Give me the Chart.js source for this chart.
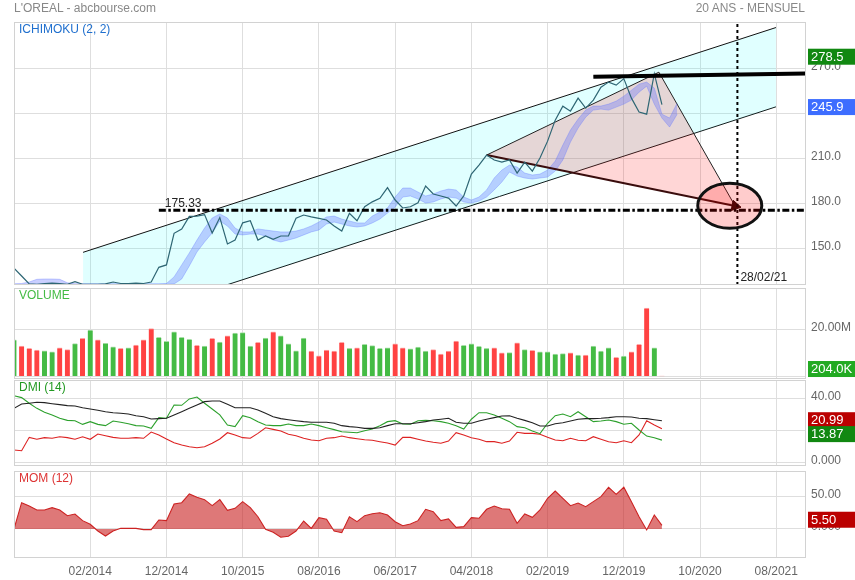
<!DOCTYPE html>
<html>
<head>
<meta charset="utf-8">
<title>L'OREAL - abcbourse.com</title>
<script src="https://cdn.jsdelivr.net/npm/chart.js@4.4.1/dist/chart.umd.min.js"></script>
<style>
  body { margin: 0; background: #fff; }
  #wrap { position: relative; width: 855px; height: 580px; overflow: hidden; font-family: "Liberation Sans", Arial, sans-serif; }
  #wrap canvas { position: absolute; left: 0; top: 0; }
  .head { position: absolute; top: 1px; font-size: 12px; color: #888; white-space: nowrap; }
</style>
</head>
<body>
<div id="wrap">
  <canvas id="priceChart" width="855" height="580"></canvas>
  <canvas id="volChart" width="855" height="580"></canvas>
  <canvas id="dmiChart" width="855" height="580"></canvas>
  <canvas id="momChart" width="855" height="580"></canvas>
  <div class="head" style="left:14px">L'OREAL - abcbourse.com</div>
  <div class="head" style="right:50px">20 ANS - MENSUEL</div>
</div>
<script>
// months are counted from 04/2013 (index 0), one value per month
var tickMonths = [10, 20, 30, 40, 50, 60, 70, 80, 90, 100];
var tickLabels = ['02/2014', '12/2014', '10/2015', '08/2016', '06/2017', '04/2018', '02/2019', '12/2019', '10/2020', '08/2021'];
var lastMonth = 103.9;

var closes = [136.7,131.5,126.2,126,126.5,126.8,126.5,126,127.7,126,
  126,126,126.2,127.5,126.5,126.4,126.8,126.5,127.5,137.3,
  138.9,160,162.9,171.3,171.5,172.5,160.2,170.5,152.9,155.5,
  167,168.4,155.5,158.2,156,158.2,158.2,170,172.2,171,
  170,168.9,164.9,161.5,173.3,168.4,177.7,181,183.3,190.5,
  182.2,176.9,177.7,180.4,191.5,186.2,184.9,183.5,178.2,184.9,
  199.5,205.5,212.2,208.9,207.5,208.9,200.2,207.5,201.5,210.2,
  221.5,235.5,244.8,241.5,250.2,243.5,248.9,257.5,260.9,258.9,
  263.2,250.2,240.9,239.5,266.5,245.9];

// ichimoku cloud, upper and lower edge (shifted 2 months ahead)
var cloudHigh = [126.4,126.5,127.5,129.3,129.5,129.5,129.3,127.0,126.3,126.3,
  126.3,126.3,126.3,126.3,126.3,126.3,126.3,126.3,126.3,126.3,
  126.5,130.9,138.9,146.9,155.5,163.5,170.2,172.9,170.2,163.5,
  160.9,160.9,162.9,162.2,161.5,160.9,160.9,161.5,162.9,164.9,
  167.5,170.9,171.5,169.5,168.2,166.9,166.9,171.5,174.2,176.9,
  184.2,190.2,190.2,187.5,184.9,186.2,188.2,189.5,188.9,184.2,
  182.2,184.2,188.9,196.9,202.2,205.5,204.2,200.2,198.9,199.5,
  202.2,208.2,218.9,228.9,236.2,242.2,244.9,244.9,246.2,248.2,
  251.5,255.5,259.5,260.9,256.9,239.5,236.9,246.9];
var cloudLow = [125.6,125.6,125.8,126.0,126.0,126.0,126.0,125.8,125.9,125.9,
  125.9,125.9,125.9,125.9,125.9,125.9,125.9,125.9,125.9,125.9,
  126.0,126.2,129.5,138.2,147.5,154.2,160.2,168.2,164.9,159.5,
  158.9,159.5,159.5,158.2,155.5,154.2,155.5,156.9,158.9,160.9,
  162.2,166.2,167.5,166.2,164.9,164.2,164.9,166.9,169.5,173.5,
  177.5,184.2,184.9,182.9,180.2,180.9,182.9,184.2,183.5,180.9,
  180.2,181.5,184.2,188.9,194.2,200.9,198.2,196.9,196.2,196.9,
  197.5,201.5,208.9,220.9,230.2,237.5,242.2,242.9,242.2,244.2,
  246.2,248.9,254.2,258.2,246.2,236.9,230.9,239.5];

// volume in millions, G = up month, R = down month
var volumes = [15.5,12.9,11.9,11.2,10.9,10.4,12.1,11.4,13.9,16.2,
  19.7,15.5,14.1,12.6,11.9,12.1,13.3,15.5,20.3,16.6,
  14.9,18.9,16.6,15.8,13.2,12.9,16.2,14.6,17.2,18.4,
  18.6,12.9,14.5,16.3,18.9,17.2,13.8,10.9,16.3,10.8,
  8.8,11.2,10.8,14.5,11.9,12.1,13.6,13.1,11.9,12.2,
  13.8,12.1,11.7,12.5,10.8,11.4,9.5,10.8,15.0,13.2,
  13.8,12.8,11.9,12.1,10.0,10.1,14.3,11.4,11.1,10.4,
  10.4,9.5,9.7,10.0,9.1,9.1,12.9,10.8,12.1,8.1,
  8.6,10.4,13.6,29.0,12.1,0.204];
var volDir = ('GRRRGGRRGR' + 'GRGGRGRRRG' + 'GGGGRGRGRG' + 'GGRGRGGGGR' + 'RRRRGRGGGG' +
  'RRGGGRRRRG' + 'GGGRRGRGRG' + 'GGGRGRGGGR' + 'GRRRGR').split('');

var plusDI = [41.6,40.4,36.9,33.7,31.2,29.6,27.5,26.2,26.0,23.7,
  25.4,23.7,22.9,25.8,25.0,24.1,22.9,22.7,21.2,27.9,
  27.5,35.8,35.6,39.6,40.8,36.9,33.3,29.6,23.3,22.3,
  29.1,27.9,25.4,23.3,22.9,22.9,23.9,22.9,22.9,23.9,
  22.9,21.6,20.4,19.1,18.75,18.5,19.75,20.8,22.9,25.4,
  26.0,23.9,23.75,26.0,26.2,26.0,25.4,24.4,22.9,20.8,
  26.9,31.0,31.0,29.6,27.5,25.4,22.3,21.6,19.6,17.9,
  24.4,29.1,30.2,28.5,31.6,28.5,25.4,25.8,26.4,25.4,
  23.75,24.4,20.2,16.4,15.4,13.87];
var minusDI = [7.7,7.25,15.6,14.4,15.4,15.0,16.0,15.4,14.4,16.0,
  14.4,17.7,16.6,15.6,15.0,15.0,15.4,15.0,18.9,17.1,
  14.6,12.25,10.8,9.75,9.1,9.75,11.9,14.6,18.5,17.1,
  15.4,15.0,18.1,21.6,20.6,19.6,17.5,16.6,15.0,13.9,
  13.5,15.0,15.4,16.4,15.4,14.75,14.1,13.75,12.9,12.1,
  10.8,15.6,15.6,14.4,13.3,12.5,11.9,13.3,18.5,17.1,
  15.4,14.4,12.9,12.9,11.9,13.3,18.75,18.1,18.1,17.5,
  15.6,13.9,13.5,15.0,13.75,13.5,16.0,14.4,12.9,12.25,
  13.5,12.25,17.1,26.0,23.3,20.99];
var adx = [33.7,36.4,36.9,37.5,37.3,36.6,36.0,35.4,35.2,34.1,
  33.3,32.5,31.6,31.0,30.6,30.2,29.1,28.5,27.1,27.3,
  27.5,29.6,31.6,33.7,35.8,37.9,38.3,38.3,36.2,34.1,
  34.1,34.1,32.7,30.6,28.5,27.3,26.6,26.0,25.4,25.0,
  25.0,25.0,24.4,22.9,22.3,21.9,21.2,21.2,21.6,22.9,
  24.1,24.1,24.1,24.75,25.4,26.4,26.9,27.5,25.0,24.4,
  24.4,25.8,26.9,27.9,28.9,29.1,27.5,26.2,24.75,22.7,
  22.7,24.1,24.75,25.8,26.9,27.3,27.3,27.5,27.9,28.5,
  28.5,28.3,27.5,27.3,26.6,26.0];

var momentum = [0,40.7,35.6,29.4,29.4,33.0,29.4,20.6,23.2,12.9,
  7.3,-3.1,-10.8,-3.1,1.0,1.0,1.0,-1.0,-1.0,13.9,
  12.9,38.7,40.7,54.2,49.0,45.4,36.1,45.4,28.9,32.0,
  42.3,33.0,19.0,-0.5,-5.2,-12.8,-11.3,-3.1,12.4,1.0,
  17.5,15.0,-3.1,-5.7,19.0,11.3,20.6,23.7,25.2,21.7,
  11.3,5.1,7.7,12.9,30.5,26.8,12.9,15.5,2.6,3.6,
  17.5,16.6,30.5,35.6,31.4,30.5,8.8,23.2,18.1,29.4,
  47.5,58.8,47.5,36.1,40.2,34.5,42.3,50.0,64.6,53.7,
  64.6,42.3,19.0,-1.5,21.7,5.5];

// hand drawn figures on the price panel
var channelX = [9.06, 99.96];
var channelHigh = [147.3, 297.3];
var channelLow = [94.5, 244.4];
var triX = [62.0, 84.6, 94.6];
var triY = [212.2, 267.5, 178.2];
var support = 175.33, supportFrom = 19;
var resistX = [76, lastMonth];
var resistY = [264.4, 266.7];
var markerX = 94.9, markerText = '28/02/21';
var circleAt = [93.9, 178.4];
var priceMin = 125.5, priceMax = 301;

var FONT = '"Liberation Sans", Arial, sans-serif';
var GRID = '#dedede';
Chart.defaults.font.family = FONT;
Chart.defaults.font.size = 12;

function pts(xs, ys) { return xs.map(function(x, i){ return {x: x, y: ys[i]}; }); }
function series(vals) { return vals.map(function(v, i){ return {x: i, y: v}; }); }
function fmt4(v) { return Number(v).toPrecision(4); }

function yScale(min, max, ticks, fmt) {
  return {
    position: 'right', min: min, max: max,
    afterBuildTicks: function(s){ s.ticks = ticks.map(function(v){ return {value: v}; }); },
    afterFit: function(s){ s.width = 49; },
    grid: {color: GRID, drawTicks: false},
    border: {display: false},
    ticks: {padding: 5, color: '#666', labelOffset: -2, callback: fmt}
  };
}

function opts(top, bottom, yAxis, showDates) {
  return {
    responsive: false, animation: false, events: [],
    layout: {padding: {left: 14, right: 0, top: top, bottom: 0}},
    plugins: {legend: {display: false}, tooltip: {enabled: false}},
    elements: {point: {radius: 0}, line: {tension: 0}},
    scales: {
      x: {
        type: 'linear', min: 0, max: lastMonth, offset: false,
        afterBuildTicks: function(s){ s.ticks = tickMonths.map(function(v){ return {value: v}; }); },
        afterFit: function(s){ s.height = 580 - bottom; },
        grid: {color: GRID, drawTicks: false, offset: false},
        border: {display: false},
        ticks: {display: !!showDates, color: '#666', padding: 7, maxRotation: 0, autoSkip: false,
          callback: function(v, i){ return tickLabels[i]; }}
      },
      y: yAxis
    }
  };
}

// frame, panel title and the coloured value boxes on the right
function decor(title, color, boxes) {
  return {
    id: 'decor',
    afterDraw: function(chart) {
      var ctx = chart.ctx, a = chart.chartArea, y = chart.scales.y;
      ctx.save();
      ctx.strokeStyle = '#d2d2d2';
      ctx.lineWidth = 1;
      ctx.strokeRect(Math.round(a.left) + 0.5, Math.round(a.top) + 0.5, Math.round(a.width) - 1, Math.round(a.height) - 1);
      ctx.font = '12px ' + FONT;
      ctx.textBaseline = 'middle';
      ctx.fillStyle = color;
      ctx.fillText(title, a.left + 5, a.top + 8);
      boxes.forEach(function(b) {
        var py = y.getPixelForValue(b.value) + b.dy;
        ctx.fillStyle = b.color;
        ctx.fillRect(808, py - 8, 47, 16);
        ctx.fillStyle = '#fff';
        ctx.font = '13px ' + FONT;
        ctx.fillText(b.text, 811, py + 0.5);
      });
      ctx.restore();
    }
  };
}

var priceExtras = {
  id: 'priceExtras',
  afterDatasetsDraw: function(chart) {
    var ctx = chart.ctx, x = chart.scales.x, y = chart.scales.y, a = chart.chartArea;
    ctx.save();
    ctx.beginPath();
    ctx.ellipse(x.getPixelForValue(circleAt[0]), y.getPixelForValue(circleAt[1]), 32, 22.5, 0, 0, Math.PI * 2);
    ctx.fillStyle = 'rgba(255,0,0,0.2)';
    ctx.fill();
    ctx.lineWidth = 3;
    ctx.strokeStyle = '#111';
    ctx.stroke();
    ctx.font = '12px ' + FONT;
    ctx.fillStyle = '#222';
    ctx.textBaseline = 'alphabetic';
    ctx.fillText(support.toFixed(2), x.getPixelForValue(supportFrom) + 6, y.getPixelForValue(support) - 3);
    ctx.textBaseline = 'middle';
    ctx.fillText(markerText, x.getPixelForValue(markerX) + 3, a.bottom - 7);
    ctx.restore();
  }
};

function arrowAngle(c) {
  var sx = c.chart.scales.x, sy = c.chart.scales.y;
  var dx = sx.getPixelForValue(triX[2]) - sx.getPixelForValue(triX[0]);
  var dy = sy.getPixelForValue(triY[2]) - sy.getPixelForValue(triY[0]);
  return Math.atan2(dy, dx) * 180 / Math.PI + 90;
}

new Chart(document.getElementById('priceChart'), {
  type: 'line',
  data: {datasets: [
    {data: series(closes), borderColor: '#2e6674', borderWidth: 1.2, order: 1},
    {data: series(cloudHigh), borderColor: 'rgba(100,120,255,0.35)', borderWidth: 1, fill: '+1', backgroundColor: 'rgba(90,105,255,0.32)', order: 3},
    {data: series(cloudLow), borderColor: 'rgba(100,120,255,0.35)', borderWidth: 1, order: 3},
    {data: pts(triX, triY), borderColor: '#222', borderWidth: 1, fill: '+1', backgroundColor: 'rgba(255,0,0,0.16)', order: 6},
    {data: pts([triX[0], triX[2]], [triY[0], triY[2]]), borderColor: '#3a0d0d', borderWidth: 2, order: 2,
      pointStyle: 'triangle', pointRadius: [0, 6], pointRotation: arrowAngle,
      pointBackgroundColor: '#2a0505', pointBorderColor: '#2a0505', pointBorderWidth: 1},
    {data: pts(channelX, channelHigh), borderColor: '#111', borderWidth: 1, fill: '+1', backgroundColor: 'rgba(0,255,255,0.12)', order: 9},
    {data: pts(channelX, channelLow), borderColor: '#111', borderWidth: 1, order: 9},
    {data: pts([supportFrom, lastMonth], [support, support]), borderColor: '#000', borderWidth: 3, borderDash: [7, 2.5, 2.5, 2.5], order: 0},
    {data: pts(resistX, resistY), borderColor: '#000', borderWidth: 4, order: 0},
    {data: pts([markerX, markerX], [priceMin, priceMax]), borderColor: '#000', borderWidth: 2, borderDash: [3, 3], order: 0}
  ]},
  options: opts(22, 285, yScale(priceMin, priceMax, [150, 180, 210, 240, 270], function(v){ return Number(v).toFixed(1); })),
  plugins: [priceExtras, decor('ICHIMOKU (2, 2)', '#1f6fce', [
    {value: 278.5, text: '278.5', color: '#118811', dy: 1},
    {value: 245.9, text: '245.9', color: '#3d6dff', dy: 2.5}
  ])]
});

new Chart(document.getElementById('volChart'), {
  type: 'bar',
  data: {datasets: [{
    data: series(volumes),
    backgroundColor: volDir.map(function(d){ return d === 'G' ? '#44bb44' : '#ff4242'; }),
    borderColor: volDir.map(function(d){ return d === 'G' ? '#a8dfa8' : '#ffaaaa'; }),
    borderWidth: {top: 1, right: 0, bottom: 0, left: 0},
    borderSkipped: false,
    barThickness: 5
  }]},
  options: opts(288, 379, yScale(-1.06, 37.5, [0, 20], function(v){ return v === 20 ? '20.00M' : ''; })),
  plugins: [decor('VOLUME', '#44bb44', [{value: 0.204, text: '204.0K', color: '#22aa22', dy: -7}])]
});

new Chart(document.getElementById('dmiChart'), {
  type: 'line',
  data: {datasets: [
    {data: series(adx), borderColor: '#222', borderWidth: 1.1},
    {data: series(plusDI), borderColor: '#2ca02c', borderWidth: 1.1},
    {data: series(minusDI), borderColor: '#dd2222', borderWidth: 1.1}
  ]},
  options: opts(380, 465.7, yScale(-2.1, 51.4, [0, 20, 40], fmt4)),
  plugins: [decor('DMI (14)', '#229922', [
    {value: 20.99, text: '20.99', color: '#bb0000', dy: -8.5},
    {value: 13.87, text: '13.87', color: '#118811', dy: -6}
  ])]
});

new Chart(document.getElementById('momChart'), {
  type: 'line',
  data: {datasets: [
    {data: series(momentum), borderColor: '#cc2222', borderWidth: 1.1, fill: 'origin', backgroundColor: 'rgba(200,30,30,0.6)'}
  ]},
  options: opts(470.7, 557.3, yScale(-43.8, 90.2, [0, 50], fmt4), true),
  plugins: [decor('MOM (12)', '#dd3333', [{value: 5.5, text: '5.50', color: '#bb0000', dy: -5.7}])]
});
</script>
</body>
</html>
